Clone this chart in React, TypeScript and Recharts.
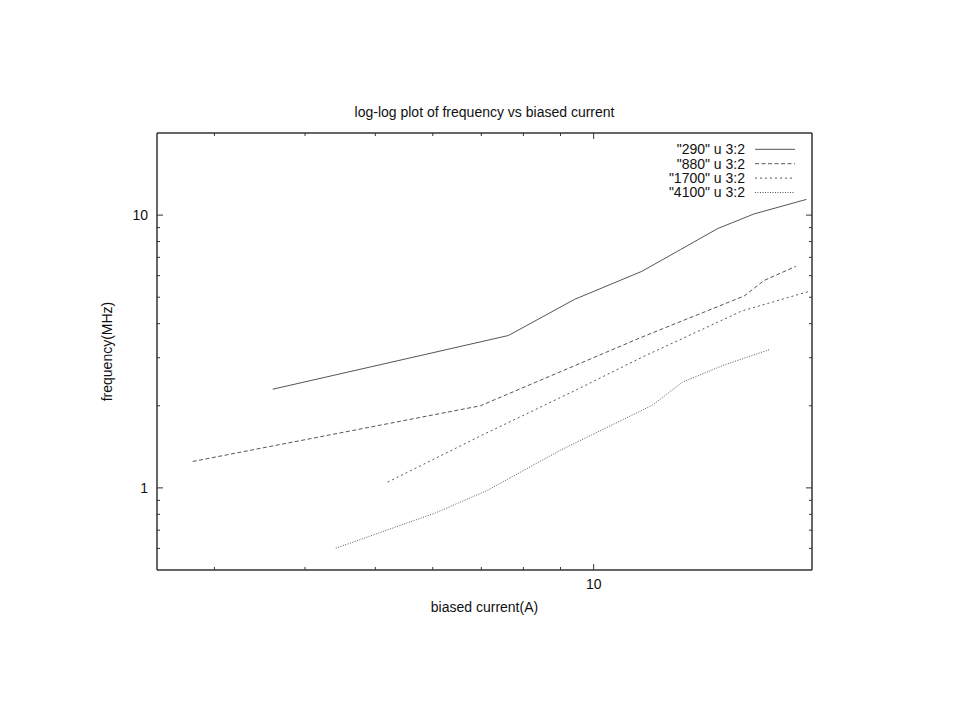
import React from 'react';
import { LineChart, Line, XAxis, YAxis } from 'recharts';

// values (log-log axes)
const current290 = [3.61, 7.63, 9.41, 11.65, 13.18, 14.83, 16.64, 19.65];
const freq290 = [2.3, 3.62, 4.91, 6.22, 7.48, 8.93, 10.1, 11.42];

const current880 = [2.8, 6.98, 11.65, 16.12, 17.18, 19.0];
const freq880 = [1.25, 2.0, 3.57, 5.05, 5.76, 6.49];

const current1700 = [5.2, 6.98, 9.41, 11.65, 16.0, 19.9];
const freq1700 = [1.05, 1.55, 2.27, 3.01, 4.45, 5.27];

const current4100 = [4.41, 6.05, 7.14, 9.0, 12.05, 13.25, 15.12, 17.45];
const freq4100 = [0.601, 0.809, 0.98, 1.375, 2.01, 2.44, 2.82, 3.21];

const xTicks = [3, 4, 5, 6, 7, 8, 9, 10];
const yTicks = [0.6, 0.7, 0.8, 0.9, 1, 2, 3, 4, 5, 6, 7, 8, 9, 10];
const labelled = [1, 10];

const toPoints = (xs: number[], ys: number[]) => xs.map((x, i) => ({ x, y: ys[i] }));

const series = [
  { name: '"290" u 3:2', data: toPoints(current290, freq290), dash: undefined },
  { name: '"880" u 3:2', data: toPoints(current880, freq880), dash: '4 2.5' },
  { name: '"1700" u 3:2', data: toPoints(current1700, freq1700), dash: '2 3' },
  { name: '"4100" u 3:2', data: toPoints(current4100, freq4100), dash: '1 1.5' },
];

const FONT = '"Liberation Sans", Arial, Helvetica, sans-serif';
const AXIS = '#333';
const LINE = '#555';

// gnuplot style ticks: pointing inward, long for decades, short for the rest
const makeTick = (side: 'bottom' | 'top' | 'left' | 'right') => (props: any) => {
  const { x, y, payload } = props;
  const v = payload.value;
  const major = labelled.includes(v);
  const len = major ? 6 : 3;
  let line;
  let label = null;
  if (side === 'bottom') {
    line = <line x1={x} y1={y} x2={x} y2={y - len} stroke={AXIS} />;
    if (major) label = <text x={x} y={y + 19} textAnchor="middle" fontSize={14} fill="#111" fontFamily={FONT}>{v}</text>;
  } else if (side === 'top') {
    line = <line x1={x} y1={y} x2={x} y2={y + len} stroke={AXIS} />;
  } else if (side === 'left') {
    line = <line x1={x} y1={y} x2={x + len} y2={y} stroke={AXIS} />;
    if (major) label = <text x={x - 9} y={y + 5} textAnchor="end" fontSize={14} fill="#111" fontFamily={FONT}>{v}</text>;
  } else {
    line = <line x1={x} y1={y} x2={x - len} y2={y} stroke={AXIS} />;
  }
  return <g>{line}{label}</g>;
};

export default function App() {
  return (
    <div style={{ position: 'absolute', left: 0, top: 0, width: 960, height: 720, background: '#fff', fontFamily: FONT }}>
      <LineChart width={960} height={720} margin={{ top: 103, right: 138, bottom: 120, left: 107 }}>
        <XAxis
          xAxisId="bottom"
          type="number"
          dataKey="x"
          scale="log"
          domain={[2.5, 20]}
          allowDataOverflow
          ticks={xTicks}
          interval={0}
          height={30}
          tickSize={0}
          tickMargin={0}
          tickLine={false}
          axisLine={{ stroke: AXIS, strokeWidth: 1.5 }}
          tick={makeTick('bottom')}
          label={{ value: 'biased current(A)', position: 'bottom', offset: 2, fontSize: 14, fill: '#111' }}
        />
        <XAxis
          xAxisId="top"
          orientation="top"
          type="number"
          dataKey="x"
          scale="log"
          domain={[2.5, 20]}
          allowDataOverflow
          ticks={xTicks}
          interval={0}
          height={30}
          tickSize={0}
          tickMargin={0}
          tickLine={false}
          axisLine={{ stroke: AXIS, strokeWidth: 1.5 }}
          tick={makeTick('top')}
          label={{ value: 'log-log plot of frequency vs biased current', position: 'insideBottom', offset: 16, fontSize: 14, fill: '#111' }}
        />
        <YAxis
          yAxisId="left"
          type="number"
          dataKey="y"
          scale="log"
          domain={[0.5, 20]}
          allowDataOverflow
          ticks={yTicks}
          interval={0}
          width={50}
          tickSize={0}
          tickMargin={0}
          tickLine={false}
          axisLine={{ stroke: AXIS, strokeWidth: 1.5 }}
          tick={makeTick('left')}
          label={{ value: 'frequency(MHz)', position: 'insideLeft', angle: -90, offset: 0, fontSize: 14, fill: '#111', style: { textAnchor: 'middle' } }}
        />
        <YAxis
          yAxisId="right"
          orientation="right"
          type="number"
          dataKey="y"
          scale="log"
          domain={[0.5, 20]}
          allowDataOverflow
          ticks={yTicks}
          interval={0}
          width={10}
          tickSize={0}
          tickMargin={0}
          tickLine={false}
          axisLine={{ stroke: AXIS, strokeWidth: 1.5 }}
          tick={makeTick('right')}
        />
        {series.map((s) => (
          <Line
            key={s.name}
            xAxisId="bottom"
            yAxisId="left"
            data={s.data}
            dataKey="y"
            name={s.name}
            type="linear"
            stroke={LINE}
            strokeWidth={1}
            strokeDasharray={s.dash}
            dot={false}
            activeDot={false}
            isAnimationActive={false}
          />
        ))}
      </LineChart>

      {/* legend, top right inside the frame */}
      <svg style={{ position: 'absolute', left: 600, top: 140, overflow: 'visible' }} width={220} height={65}>
        {series.map((s, i) => {
          const cy = 9.3 + i * 14.4;
          return (
            <g key={s.name}>
              <text x={145} y={cy} dy="0.35em" textAnchor="end" fontSize={14} fill="#111" fontFamily={FONT}>{s.name}</text>
              <line x1={155} y1={cy} x2={195} y2={cy} stroke={LINE} strokeWidth={1} strokeDasharray={s.dash} />
            </g>
          );
        })}
      </svg>
    </div>
  );
}
